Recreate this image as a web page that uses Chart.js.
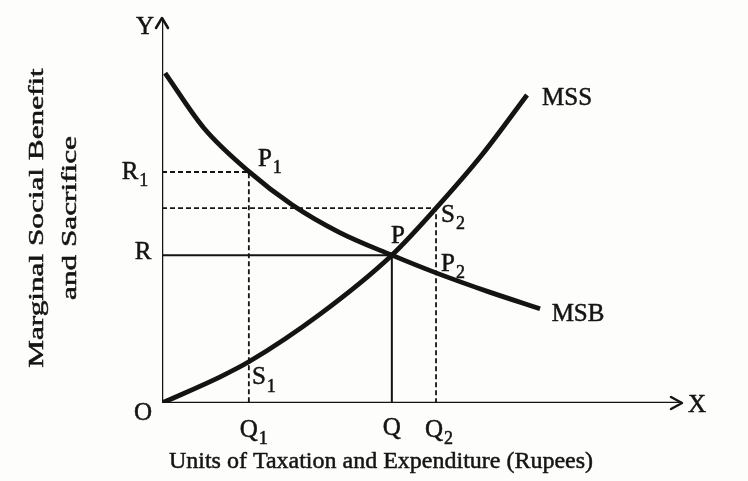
<!DOCTYPE html>
<html>
<head>
<meta charset="utf-8">
<script src="https://cdn.jsdelivr.net/npm/chart.js@4"></script>
<style>
  body { margin: 0; background: #fdfdfc; }
  #wrap { width: 748px; height: 481px; }
</style>
</head>
<body>
<div id="wrap"><canvas id="chart" width="748" height="481"></canvas></div>
<script>
// Curve values (units along X, value along Y)
const msbX = [0.06, 0.8, 1.69, 2.5, 3.4, 4.42, 5.27, 6.3, 7.27];
const msbY = [8.57, 7.15, 5.99, 5.15, 4.44, 3.84, 3.38, 2.88, 2.45];
const mssX = [0, 1.12, 1.67, 3.04, 4.42, 5.27, 6.15, 7.02];
const mssY = [0, 0.68, 1.07, 2.31, 3.84, 5.06, 6.44, 8.00];

// Reference levels
const qLevels = { Q1: 1.67, Q: 4.42, Q2: 5.27 };
const rLevels = { R1: 6.00, R: 3.84, S2: 5.06, S1: 1.07, P2: 3.35 };
const axisMax = { x: 10, y: 10 };

const toPts = (xs, ys) => xs.map((x, i) => ({ x: x, y: ys[i] }));

const INK = '#141414';
const FONT = '"Liberation Serif", "Times New Roman", serif';

function lineSet(data, width, dash) {
    return {
        data: data,
        showLine: true,
        borderColor: INK,
        borderWidth: width,
        borderDash: dash || [],
        pointRadius: 0,
        tension: 0,
        fill: false
    };
}

const datasets = [
    // axes
    lineSet([{ x: 0, y: 0 }, { x: 0, y: axisMax.y }], 2.5),
    lineSet([{ x: 0, y: 0 }, { x: axisMax.x, y: 0 }], 2.5),
    // dashed guides
    lineSet([{ x: 0, y: rLevels.R1 }, { x: qLevels.Q1, y: rLevels.R1 }, { x: qLevels.Q1, y: 0 }], 1.8, [5, 3]),
    lineSet([{ x: 0, y: rLevels.S2 }, { x: qLevels.Q2, y: rLevels.S2 }, { x: qLevels.Q2, y: 0 }], 1.8, [5, 3]),
    // equilibrium guides
    lineSet([{ x: 0, y: rLevels.R }, { x: qLevels.Q, y: rLevels.R }, { x: qLevels.Q, y: 0 }], 2),
    // curves
    Object.assign(lineSet(toPts(msbX, msbY), 4.8), { cubicInterpolationMode: 'monotone' }),
    Object.assign(lineSet(toPts(mssX, mssY), 4.8), { cubicInterpolationMode: 'monotone' })
];

// text labels: [main, subscript, x, y, dx, dy]
const labels = [
    ['Y', '', 0, axisMax.y, -17, 9],
    ['X', '', axisMax.x, 0, 15, 2],
    ['O', '', 0, 0, -19, 10],
    ['R', '1', 0, rLevels.R1, -27, 0],
    ['R', '', 0, rLevels.R, -19, -3],
    ['P', '1', qLevels.Q1, rLevels.R1, 21, -13],
    ['P', '', qLevels.Q, rLevels.R, 6, -19],
    ['S', '2', qLevels.Q2, rLevels.S2, 17, 7],
    ['P', '2', qLevels.Q2, rLevels.P2, 17, -10],
    ['S', '1', qLevels.Q1, rLevels.S1, 15, 16],
    ['Q', '1', qLevels.Q1, 0, 5, 27],
    ['Q', '', qLevels.Q, 0, 0, 25],
    ['Q', '2', qLevels.Q2, 0, 3, 27],
    ['MSS', '', mssX[mssX.length - 1], mssY[mssY.length - 1], 40, 3],
    ['MSB', '', msbX[msbX.length - 1], msbY[msbY.length - 1], 38, 6]
];

function inkText(ctx, t, x, y) {
    ctx.fillText(t, x, y);
    ctx.strokeText(t, x, y);
}

const decor = {
    id: 'decor',
    afterDatasetsDraw(chart) {
        const ctx = chart.ctx;
        const xs = chart.scales.x, ys = chart.scales.y;
        const ox = xs.getPixelForValue(0), oy = ys.getPixelForValue(0);
        const tx = xs.getPixelForValue(axisMax.x), ty = ys.getPixelForValue(axisMax.y);

        ctx.save();
        ctx.strokeStyle = INK;
        ctx.lineWidth = 2.5;
        ctx.lineCap = 'round';
        ctx.lineJoin = 'round';
        // arrow heads
        ctx.beginPath();
        ctx.moveTo(ox - 6, ty + 10); ctx.lineTo(ox, ty); ctx.lineTo(ox + 6, ty + 10);
        ctx.moveTo(tx - 11, oy - 6); ctx.lineTo(tx, oy); ctx.lineTo(tx - 11, oy + 6);
        ctx.stroke();

        ctx.fillStyle = INK;
        ctx.lineWidth = 0.5;
        ctx.textBaseline = 'middle';
        labels.forEach(([main, sub, x, y, dx, dy]) => {
            const px = xs.getPixelForValue(x) + dx;
            const py = ys.getPixelForValue(y) + dy;
            ctx.font = '25px ' + FONT;
            const w1 = ctx.measureText(main).width;
            ctx.font = '18px ' + FONT;
            const w2 = sub ? ctx.measureText(sub).width + 1 : 0;
            const left = px - (w1 + w2) / 2;
            ctx.font = '25px ' + FONT;
            ctx.textAlign = 'left';
            inkText(ctx, main, left, py);
            if (sub) {
                ctx.font = '18px ' + FONT;
                inkText(ctx, sub, left + w1 + 1, py + 9);
            }
        });

        // axis titles
        ctx.font = '24px ' + FONT;
        ctx.textAlign = 'center';
        inkText(ctx, 'Units of Taxation and Expenditure (Rupees)', 381, 462);
        ctx.translate(0, 218);
        ctx.rotate(-Math.PI / 2);
        ctx.scale(1.42, 1);
        ctx.font = '22px ' + FONT;
        inkText(ctx, 'Marginal Social Benefit', 0, 37);
        inkText(ctx, 'and Sacrifice', 0, 70);
        ctx.restore();
    }
};

new Chart(document.getElementById('chart'), {
    type: 'scatter',
    data: { datasets: datasets },
    options: {
        responsive: false,
        animation: false,
        layout: { padding: { left: 162, right: 66, top: 18, bottom: 78 } },
        plugins: { legend: { display: false }, tooltip: { enabled: false } },
        scales: {
            x: { type: 'linear', min: 0, max: axisMax.x, display: false },
            y: { type: 'linear', min: 0, max: axisMax.y, display: false }
        }
    },
    plugins: [decor]
});
</script>
</body>
</html>
